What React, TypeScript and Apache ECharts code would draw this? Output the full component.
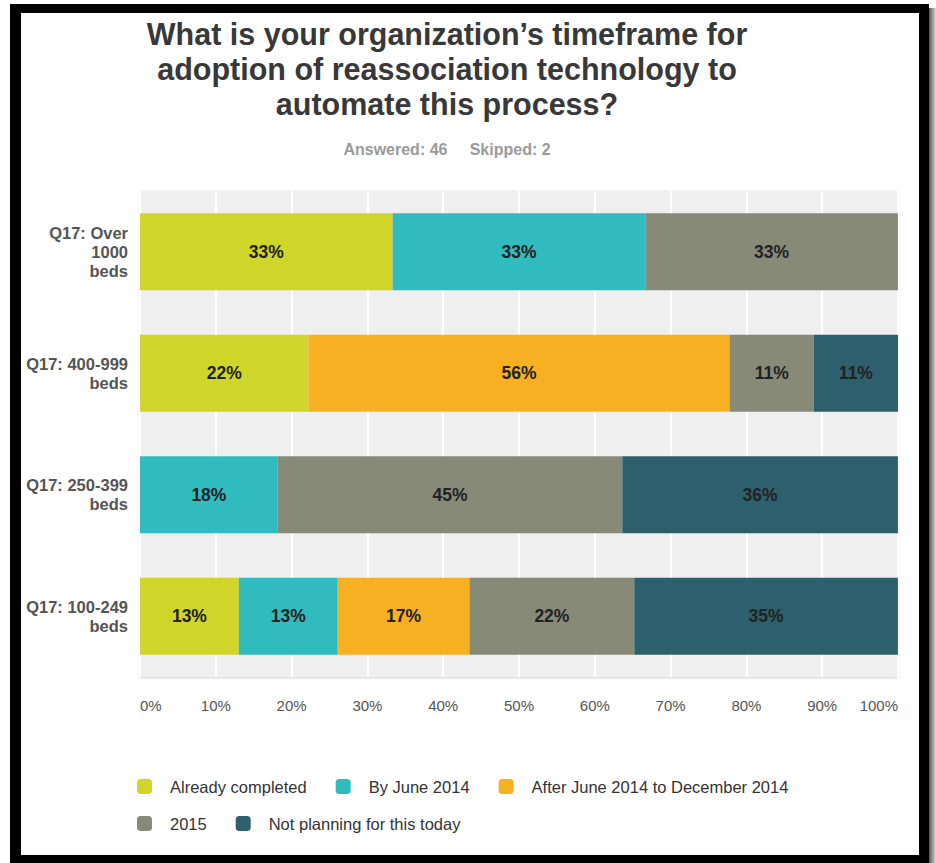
import React, { useEffect, useRef } from "react";
import * as echarts from "echarts";

const categories = [
  "Q17: Over\n1000\nbeds",
  "Q17: 400-999\nbeds",
  "Q17: 250-399\nbeds",
  "Q17: 100-249\nbeds",
];
const seriesNames = [
  "Already completed",
  "By June 2014",
  "After June 2014 to December 2014",
  "2015",
  "Not planning for this today",
];
const alreadyCompleted = [33.33, 22.22, 0, 13.04];
const byJune2014 = [33.33, 0, 18.18, 13.04];
const afterJune2014ToDec2014 = [0, 55.56, 0, 17.39];
const year2015 = [33.33, 11.11, 45.45, 21.74];
const notPlanning = [0, 11.11, 36.36, 34.78];
const seriesValues = [alreadyCompleted, byJune2014, afterJune2014ToDec2014, year2015, notPlanning];
const colors = ["#D0D52A", "#30BCBE", "#F7B022", "#888A78", "#2E5F6C"];

const titleLines = "What is your organization\u2019s timeframe for\nadoption of reassociation technology to\nautomate this process?";
const subtitle = "Answered: 46     Skipped: 2";

export default function App() {
  const ref = useRef<HTMLDivElement>(null);
  useEffect(() => {
    if (!ref.current) return;
    const chart = echarts.init(ref.current, undefined, { renderer: "svg" });
    const font = "Liberation Sans, Arial, sans-serif";
    const legendText = { fontSize: 16.5, color: "#333", fontFamily: font, padding: [0, 0, 0, 13] };
    chart.setOption({
      animation: false,
      textStyle: { fontFamily: font },
      graphic: [
        {
          type: "text",
          x: 447,
          y: 69,
          style: {
            text: titleLines,
            fontFamily: font,
            fontSize: 30.5,
            fontWeight: "bold",
            lineHeight: 35,
            fill: "#383838",
            align: "center",
            verticalAlign: "middle",
          },
        },
        {
          type: "text",
          x: 447,
          y: 149,
          style: {
            text: subtitle,
            fontFamily: font,
            fontSize: 16,
            fontWeight: "bold",
            fill: "#9a9a9a",
            align: "center",
            verticalAlign: "middle",
          },
        },
      ],
      legend: [
        {
          data: seriesNames.slice(0, 3),
          left: 137,
          top: 778,
          padding: 0,
          orient: "horizontal",
          icon: "roundRect",
          itemWidth: 15,
          itemHeight: 15,
          itemGap: 29,
          textStyle: legendText,
        },
        {
          data: seriesNames.slice(3),
          left: 137,
          top: 815,
          padding: 0,
          orient: "horizontal",
          icon: "roundRect",
          itemWidth: 15,
          itemHeight: 15,
          itemGap: 29,
          textStyle: legendText,
        },
      ],
      grid: {
        left: 140,
        right: 38,
        top: 191,
        bottom: 186,
        show: true,
        backgroundColor: "#efefef",
        borderWidth: 0,
        shadowColor: "rgba(0,0,0,0.18)",
        shadowBlur: 3,
        shadowOffsetY: 1,
        containLabel: false,
      },
      xAxis: {
        type: "value",
        min: 0,
        max: 100,
        interval: 10,
        axisLine: { show: false },
        axisTick: { show: false },
        splitLine: { show: true, lineStyle: { color: "#ffffff", width: 2 } },
        axisLabel: {
          formatter: "{value}%",
          fontSize: 15,
          color: "#555",
          margin: 21,
          alignMinLabel: "left",
          alignMaxLabel: "right",
          fontFamily: font,
        },
      },
      yAxis: {
        type: "category",
        inverse: true,
        data: categories,
        axisLine: { show: false },
        axisTick: { show: false },
        splitLine: { show: false },
        axisLabel: {
          fontSize: 16.5,
          fontWeight: "bold",
          color: "#555",
          lineHeight: 19,
          margin: 12,
          align: "right",
          fontFamily: font,
        },
      },
      series: seriesNames.map((name, i) => ({
        name,
        type: "bar",
        stack: "total",
        barWidth: 77,
        data: seriesValues[i],
        itemStyle: { color: colors[i] },
        label: {
          show: true,
          position: "inside",
          fontSize: 17.5,
          fontWeight: "bold",
          color: "#222",
          fontFamily: font,
          formatter: (p: any) => (p.value > 0 ? Math.round(p.value) + "%" : ""),
        },
      })),
    });
    return () => chart.dispose();
  }, []);

  return (
    <div style={{ position: "absolute", left: 0, top: 0, width: 936, height: 863, background: "#fff", overflow: "hidden" }}>
      <div style={{ position: "absolute", left: 929, top: 8, width: 7, height: 855, background: "linear-gradient(to right, #555, #ddd)" }} />
      <div style={{ position: "absolute", left: 10, top: 4, width: 919, height: 859, background: "#000" }} />
      <div style={{ position: "absolute", left: 21, top: 13, width: 898, height: 842, background: "#fff" }} />
      <div ref={ref} style={{ position: "absolute", left: 0, top: 0, width: 936, height: 863 }} />
    </div>
  );
}
